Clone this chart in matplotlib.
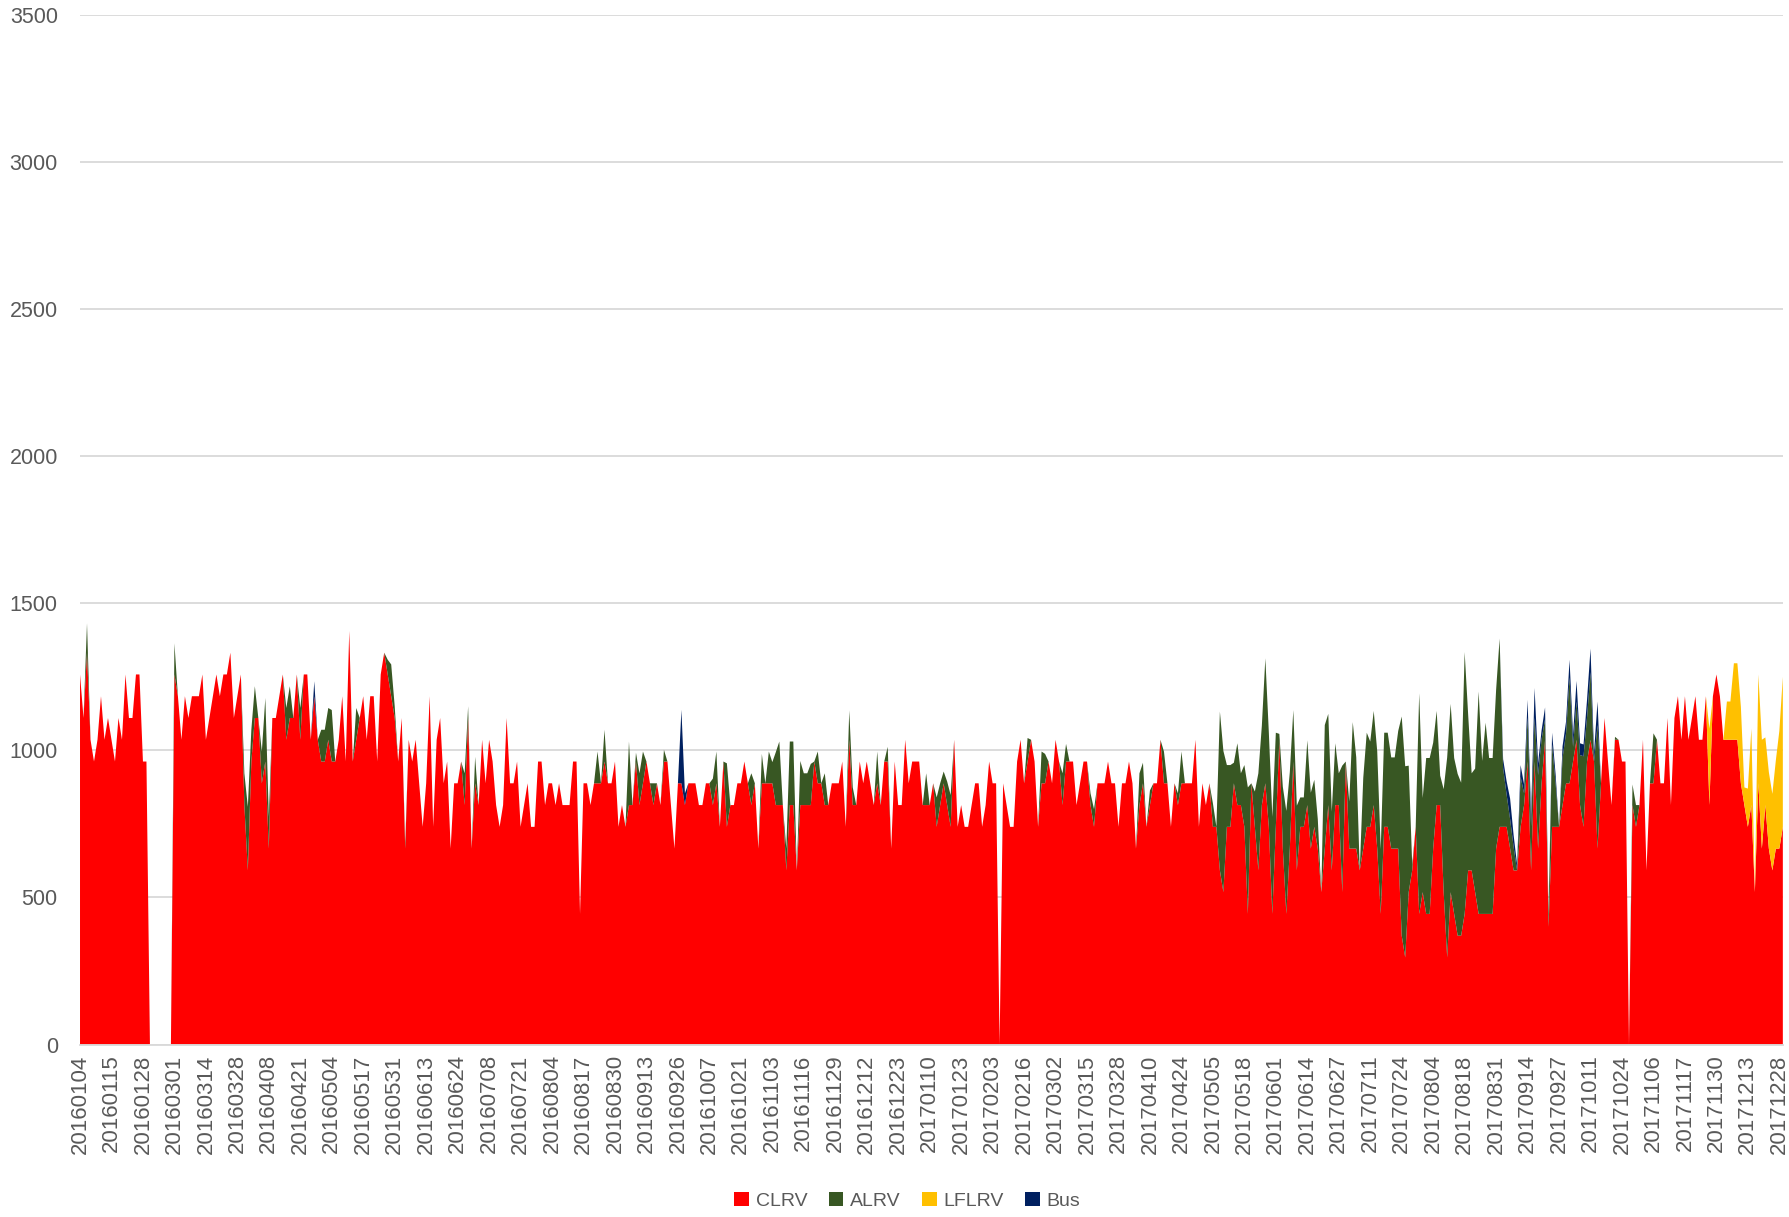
import numpy as np
import matplotlib
matplotlib.use("Agg")
import matplotlib.pyplot as plt

# tick labels (every 9th category on the axis)
tick_labels = ["20160104", "20160115", "20160128", "20160301", "20160314", "20160328",
               "20160408", "20160421", "20160504", "20160517", "20160531", "20160613",
               "20160624", "20160708", "20160721", "20160804", "20160817", "20160830",
               "20160913", "20160926", "20161007", "20161021", "20161103", "20161116",
               "20161129", "20161212", "20161223", "20170110", "20170123", "20170203",
               "20170216", "20170302", "20170315", "20170328", "20170410", "20170424",
               "20170505", "20170518", "20170601", "20170614", "20170627", "20170711",
               "20170724", "20170804", "20170818", "20170831", "20170914", "20170927",
               "20171011", "20171024", "20171106", "20171117", "20171130", "20171213",
               "20171228"]
tick_step = 9

clrv = [
    1258, 1110, 1332, 1036, 962, 1036, 1184, 1036, 1110, 1036, 962, 1110, 1036, 1258, 1110, 1110, 1258, 1258, 962, 962,
    0, 0, 0, 0, 0, 0, 0, 1258, 1184, 1036, 1184, 1110, 1184, 1184, 1184, 1258, 1036, 1110, 1184, 1258,
    1184, 1258, 1258, 1332, 1110, 1184, 1258, 814, 592, 962, 1110, 1110, 888, 962, 666, 1110, 1110, 1184, 1258, 1036,
    1110, 1110, 1258, 1036, 1258, 1258, 1036, 1184, 1036, 962, 962, 1036, 962, 962, 1036, 1184, 962, 1406, 962, 1036,
    1110, 1184, 1036, 1184, 1184, 962, 1258, 1332, 1258, 1184, 1110, 962, 1110, 666, 1036, 962, 1036, 888, 740, 888,
    1184, 740, 1036, 1110, 888, 962, 666, 888, 888, 962, 814, 1110, 666, 888, 814, 1036, 888, 1036, 962, 814,
    740, 814, 1110, 888, 888, 962, 740, 814, 888, 740, 740, 962, 962, 814, 888, 888, 814, 888, 814, 814,
    814, 962, 962, 444, 888, 888, 814, 888, 888, 888, 962, 888, 888, 962, 740, 814, 740, 814, 814, 962,
    814, 888, 962, 888, 814, 888, 814, 962, 962, 814, 666, 888, 888, 814, 888, 888, 888, 814, 814, 888,
    888, 814, 888, 740, 962, 740, 814, 814, 888, 888, 962, 888, 814, 888, 666, 888, 888, 888, 888, 814,
    814, 814, 592, 814, 814, 592, 814, 814, 814, 814, 962, 888, 888, 814, 814, 888, 888, 888, 962, 740,
    1036, 814, 814, 962, 888, 962, 888, 814, 888, 814, 962, 962, 666, 962, 814, 814, 1036, 888, 962, 962,
    962, 814, 814, 814, 888, 740, 814, 888, 814, 740, 1036, 740, 814, 740, 740, 814, 888, 888, 740, 814,
    962, 888, 888, 0, 888, 814, 740, 740, 962, 1036, 888, 962, 1036, 962, 740, 888, 888, 962, 888, 1036,
    962, 814, 962, 962, 962, 814, 888, 962, 962, 814, 740, 888, 888, 888, 962, 888, 888, 740, 888, 888,
    962, 888, 666, 814, 888, 740, 814, 888, 888, 1036, 888, 888, 740, 888, 814, 888, 888, 888, 888, 1036,
    740, 888, 814, 888, 740, 740, 592, 518, 740, 740, 888, 814, 814, 740, 444, 888, 740, 592, 814, 888,
    740, 444, 740, 1036, 666, 444, 666, 962, 592, 740, 740, 814, 666, 740, 666, 518, 666, 814, 592, 814,
    814, 518, 962, 666, 666, 666, 592, 666, 740, 740, 814, 666, 444, 740, 740, 666, 666, 666, 370, 296,
    518, 592, 740, 444, 518, 444, 444, 666, 814, 814, 518, 296, 518, 444, 370, 370, 444, 592, 592, 518,
    444, 444, 444, 444, 444, 666, 740, 740, 740, 666, 592, 592, 740, 814, 962, 592, 962, 666, 888, 1036,
    400, 740, 740, 740, 814, 888, 888, 962, 1036, 814, 740, 962, 1036, 962, 666, 888, 1110, 962, 814, 1036,
    1036, 962, 962, 0, 814, 740, 814, 1036, 592, 888, 888, 1036, 888, 888, 1110, 814, 1110, 1184, 1036, 1184,
    1036, 1110, 1184, 1036, 1036, 1184, 814, 1184, 1258, 1184, 1036, 1036, 1036, 1036, 1036, 888, 814, 740, 814, 518,
    888, 666, 814, 666, 592, 666, 666, 740,
]

alrv = [
    0, 0, 100, 0, 0, 0, 0, 0, 0, 0, 0, 0, 0, 0, 0, 0, 0, 0, 0, 0,
    0, 0, 0, 0, 0, 0, 0, 106, 0, 0, 0, 0, 0, 0, 0, 0, 0, 0, 0, 0,
    0, 0, 0, 0, 0, 0, 0, 108, 216, 108, 108, 0, 108, 216, 108, 0, 0, 0, 0, 108,
    108, 0, 0, 108, 0, 0, 0, 0, 0, 108, 108, 108, 175, 0, 0, 0, 0, 0, 0, 108,
    0, 0, 0, 0, 0, 0, 0, 0, 50, 108, 40, 0, 0, 20, 0, 0, 0, 0, 0, 0,
    0, 0, 0, 0, 0, 0, 0, 0, 0, 0, 108, 40, 0, 90, 0, 0, 0, 0, 0, 0,
    0, 0, 0, 0, 0, 0, 0, 0, 0, 0, 0, 0, 0, 0, 0, 0, 0, 0, 0, 0,
    0, 0, 0, 0, 0, 0, 0, 0, 108, 0, 108, 0, 0, 0, 0, 0, 0, 216, 0, 30,
    108, 108, 0, 0, 74, 0, 0, 40, 0, 0, 0, 0, 0, 0, 0, 0, 0, 0, 0, 0,
    0, 90, 108, 0, 0, 216, 0, 0, 0, 0, 0, 0, 108, 0, 0, 100, 0, 108, 72, 180,
    216, 0, 74, 216, 216, 0, 150, 108, 108, 140, 0, 108, 0, 108, 0, 0, 0, 0, 0, 0,
    100, 60, 0, 0, 0, 0, 0, 0, 108, 0, 0, 50, 0, 0, 0, 0, 0, 0, 0, 0,
    0, 0, 108, 0, 0, 100, 74, 40, 80, 108, 0, 0, 0, 0, 0, 0, 0, 0, 0, 0,
    0, 0, 0, 0, 0, 0, 0, 0, 0, 0, 0, 80, 0, 0, 0, 108, 100, 0, 0, 0,
    0, 108, 60, 0, 0, 0, 0, 0, 0, 40, 60, 0, 0, 0, 0, 0, 0, 0, 0, 0,
    0, 0, 0, 108, 70, 0, 50, 0, 0, 0, 108, 0, 0, 0, 40, 108, 0, 0, 0, 0,
    0, 0, 0, 0, 80, 0, 540, 480, 210, 210, 70, 210, 108, 210, 430, 0, 120, 330, 270, 425,
    320, 330, 320, 20, 210, 350, 260, 175, 220, 100, 100, 220, 190, 160, 100, 0, 420, 310, 200, 210,
    108, 430, 0, 160, 430, 310, 0, 240, 320, 290, 320, 330, 220, 320, 320, 310, 310, 400, 745, 650,
    430, 20, 0, 750, 320, 530, 530, 360, 320, 100, 350, 680, 640, 530, 550, 520, 890, 530, 330, 420,
    756, 520, 650, 530, 530, 540, 640, 200, 110, 100, 80, 0, 170, 40, 150, 150, 150, 250, 150, 70,
    44, 280, 150, 0, 160, 170, 360, 50, 130, 170, 240, 150, 230, 0, 420, 0, 0, 0, 0, 10,
    0, 0, 0, 0, 70, 74, 0, 0, 0, 0, 170, 0, 0, 0, 0, 0, 0, 0, 0, 0,
    0, 0, 0, 0, 0, 0, 0, 0, 0, 0, 0, 0, 0, 0, 0, 0, 0, 0, 0, 0,
    0, 0, 0, 0, 0, 0, 0, 0,
]

lflrv = [
    0, 0, 0, 0, 0, 0, 0, 0, 0, 0, 0, 0, 0, 0, 0, 0, 0, 0, 0, 0,
    0, 0, 0, 0, 0, 0, 0, 0, 0, 0, 0, 0, 0, 0, 0, 0, 0, 0, 0, 0,
    0, 0, 0, 0, 0, 0, 0, 0, 0, 0, 0, 0, 0, 0, 0, 0, 0, 0, 0, 0,
    0, 0, 0, 0, 0, 0, 0, 0, 0, 0, 0, 0, 0, 0, 0, 0, 0, 0, 0, 0,
    0, 0, 0, 0, 0, 0, 0, 0, 0, 0, 0, 0, 0, 0, 0, 0, 0, 0, 0, 0,
    0, 0, 0, 0, 0, 0, 0, 0, 0, 0, 0, 0, 0, 0, 0, 0, 0, 0, 0, 0,
    0, 0, 0, 0, 0, 0, 0, 0, 0, 0, 0, 0, 0, 0, 0, 0, 0, 0, 0, 0,
    0, 0, 0, 0, 0, 0, 0, 0, 0, 0, 0, 0, 0, 0, 0, 0, 0, 0, 0, 0,
    0, 0, 0, 0, 0, 0, 0, 0, 0, 0, 0, 0, 0, 0, 0, 0, 0, 0, 0, 0,
    0, 0, 0, 0, 0, 0, 0, 0, 0, 0, 0, 0, 0, 0, 0, 0, 0, 0, 0, 0,
    0, 0, 0, 0, 0, 0, 0, 0, 0, 0, 0, 0, 0, 0, 0, 0, 0, 0, 0, 0,
    0, 0, 0, 0, 0, 0, 0, 0, 0, 0, 0, 0, 0, 0, 0, 0, 0, 0, 0, 0,
    0, 0, 0, 0, 0, 0, 0, 0, 0, 0, 0, 0, 0, 0, 0, 0, 0, 0, 0, 0,
    0, 0, 0, 0, 0, 0, 0, 0, 0, 0, 0, 0, 0, 0, 0, 0, 0, 0, 0, 0,
    0, 0, 0, 0, 0, 0, 0, 0, 0, 0, 0, 0, 0, 0, 0, 0, 0, 0, 0, 0,
    0, 0, 0, 0, 0, 0, 0, 0, 0, 0, 0, 0, 0, 0, 0, 0, 0, 0, 0, 0,
    0, 0, 0, 0, 0, 0, 0, 0, 0, 0, 0, 0, 0, 0, 0, 0, 0, 0, 0, 0,
    0, 0, 0, 0, 0, 0, 0, 0, 0, 0, 0, 0, 0, 0, 0, 0, 0, 0, 0, 0,
    0, 0, 0, 0, 0, 0, 0, 0, 0, 0, 0, 0, 0, 0, 0, 0, 0, 0, 0, 0,
    0, 0, 0, 0, 0, 0, 0, 0, 0, 0, 0, 0, 0, 0, 0, 0, 0, 0, 0, 0,
    0, 0, 0, 0, 0, 0, 0, 0, 0, 0, 0, 0, 0, 0, 0, 0, 0, 0, 0, 0,
    0, 0, 0, 0, 0, 0, 0, 0, 0, 0, 0, 0, 0, 0, 0, 0, 0, 0, 0, 0,
    0, 0, 0, 0, 0, 0, 0, 0, 0, 0, 0, 0, 0, 0, 0, 0, 0, 0, 0, 0,
    0, 0, 0, 0, 0, 0, 260, 0, 0, 0, 0, 130, 130, 260, 260, 260, 60, 130, 260, 0,
    370, 370, 230, 260, 260, 300, 400, 510,
]

bus = [
    0, 0, 0, 0, 0, 0, 0, 0, 0, 0, 0, 0, 0, 0, 0, 0, 0, 0, 0, 0,
    0, 0, 0, 0, 0, 0, 0, 0, 0, 0, 0, 0, 0, 0, 0, 0, 0, 0, 0, 0,
    0, 0, 0, 0, 0, 0, 0, 0, 0, 0, 0, 0, 0, 0, 0, 0, 0, 0, 0, 0,
    0, 0, 0, 0, 0, 0, 0, 51, 0, 0, 0, 0, 0, 0, 0, 0, 0, 0, 0, 0,
    0, 0, 0, 0, 0, 0, 0, 0, 0, 0, 0, 0, 0, 0, 0, 0, 0, 0, 0, 0,
    0, 0, 0, 0, 0, 0, 0, 0, 0, 0, 0, 0, 0, 0, 0, 0, 0, 0, 0, 0,
    0, 0, 0, 0, 0, 0, 0, 0, 0, 0, 0, 0, 0, 0, 0, 0, 0, 0, 0, 0,
    0, 0, 0, 0, 0, 0, 0, 0, 0, 0, 0, 0, 0, 0, 0, 0, 0, 0, 0, 0,
    0, 0, 0, 0, 0, 0, 0, 0, 0, 0, 0, 0, 250, 40, 0, 0, 0, 0, 0, 0,
    0, 0, 0, 0, 0, 0, 0, 0, 0, 0, 0, 0, 0, 0, 0, 0, 0, 0, 0, 0,
    0, 0, 0, 0, 0, 0, 0, 0, 0, 0, 0, 0, 0, 0, 0, 0, 0, 0, 0, 0,
    0, 0, 0, 0, 0, 0, 0, 0, 0, 0, 0, 0, 0, 0, 0, 0, 0, 0, 0, 0,
    0, 0, 0, 0, 0, 0, 0, 0, 0, 0, 0, 0, 0, 0, 0, 0, 0, 0, 0, 0,
    0, 0, 0, 0, 0, 0, 0, 0, 0, 0, 0, 0, 0, 0, 0, 0, 0, 0, 0, 0,
    0, 0, 0, 0, 0, 0, 0, 0, 0, 0, 0, 0, 0, 0, 0, 0, 0, 0, 0, 0,
    0, 0, 0, 0, 0, 0, 0, 0, 0, 0, 0, 0, 0, 0, 0, 0, 0, 0, 0, 0,
    0, 0, 0, 0, 0, 0, 0, 0, 0, 0, 0, 0, 0, 0, 0, 0, 0, 0, 0, 0,
    0, 0, 0, 0, 0, 0, 0, 0, 0, 0, 0, 0, 0, 0, 0, 0, 0, 0, 0, 0,
    0, 0, 0, 0, 0, 0, 0, 0, 0, 0, 0, 0, 0, 0, 0, 0, 0, 0, 0, 0,
    0, 0, 0, 0, 0, 0, 0, 0, 0, 0, 0, 0, 0, 0, 0, 0, 0, 0, 0, 0,
    0, 0, 0, 0, 0, 0, 0, 30, 45, 70, 40, 20, 40, 30, 60, 40, 100, 40, 30, 40,
    0, 40, 30, 0, 40, 40, 60, 40, 70, 40, 40, 60, 80, 30, 80, 0, 0, 0, 0, 0,
    0, 0, 0, 0, 0, 0, 0, 0, 0, 0, 0, 0, 0, 0, 0, 0, 0, 0, 0, 0,
    0, 0, 0, 0, 0, 0, 0, 0, 0, 0, 0, 0, 0, 0, 0, 0, 0, 0, 0, 0,
    0, 0, 0, 0, 0, 0, 0, 0,
]

series_names = ["CLRV", "ALRV", "LFLRV", "Bus"]
series_colors = ["#FF0000", "#385723", "#FFC000", "#002060"]

n = len(clrv)
x = np.arange(n)

fig = plt.figure(figsize=(17.9, 12.17), dpi=100)
ax = fig.add_axes([0.0447, 0.1417, 0.9513, 0.8461])

ax.stackplot(x, clrv, alrv, lflrv, bus, colors=series_colors,
             labels=series_names, linewidth=0, zorder=2)

ax.set_xlim(0, n - 1)
ax.set_ylim(0, 3500)
ax.set_yticks(np.arange(0, 3501, 500))
ax.grid(axis="y", color="#D9D9D9", linewidth=1.3, zorder=0)
ax.set_axisbelow(True)

ax.set_xticks(np.arange(len(tick_labels)) * tick_step)
ax.set_xticklabels(tick_labels, rotation=90, fontsize=16, color="#595959",
                   family="Liberation Sans")
for lab in ax.get_yticklabels():
    lab.set_fontsize(15.5)
    lab.set_color("#595959")
    lab.set_family("Liberation Sans")

for side in ["top", "right", "left"]:
    ax.spines[side].set_visible(False)
ax.spines["bottom"].set_color("#D9D9D9")
ax.spines["bottom"].set_linewidth(1.3)
ax.tick_params(axis="x", length=0, pad=7)
ax.tick_params(axis="y", length=0, pad=16)

fig.legend(loc="center", bbox_to_anchor=(0.507, 0.013), ncol=4, frameon=False,
           handlelength=0.75, handleheight=0.75, handletextpad=0.35,
           columnspacing=1.1, prop={"family": "Liberation Sans", "size": 14},
           labelcolor="#595959")

fig.savefig("out.png", dpi=100)
